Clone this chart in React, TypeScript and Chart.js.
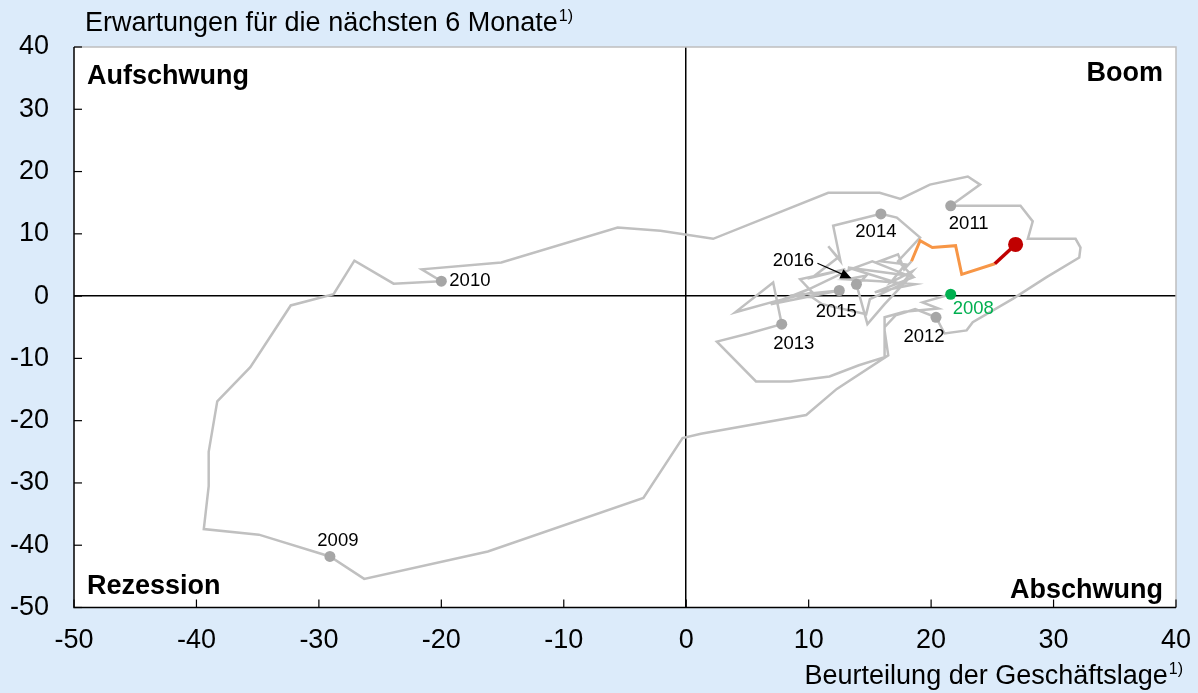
import React, { useEffect, useRef } from "react";
import { Chart, registerables } from "chart.js";

Chart.register(...registerables);

const FONT = "'Liberation Sans', Arial, Helvetica, sans-serif";

// Axis ranges / ticks
const axisMin = -50;
const axisMax = 40;
const axisStep = 10;

// Gray path (Beurteilung der Geschäftslage = x, Erwartungen = y), 2008 to 2017
const situation = [
  21.6, 19.3, 20.6, 17.8, 16.2, 16.2, 16.5, 12.3, 9.8, 1.2, -0.3, -3.5, -16.2, -26.3,
  -29.1, -34.9, -39.4, -39.0, -39.0, -38.3, -35.6, -32.3, -28.8, -27.1, -23.9,
  -20.0, -21.6, -15.1, -5.6, -2.1, 2.2, 11.6, 15.8, 17.5, 19.9, 23.0, 24.0,
  21.6, 27.3, 28.3, 27.9, 31.8, 32.2, 32.1, 29.4, 26.7, 23.4, 22.9, 21.1,
  20.4, 18.7, 17.1, 16.2, 16.2, 14.1, 11.7, 8.5, 5.7, 2.5, 5.1,
  7.8, 7.1, 4.0, 7.3, 10.3, 9.3, 13.0, 10.3, 12.4, 11.6, 12.6, 12.0,
  15.9, 17.2, 19.1, 17.3, 18.5, 13.2, 17.6, 15.0, 14.7, 11.1, 10.3, 8.5,
  12.5, 6.9, 10.0, 13.4, 15.2, 18.5, 15.4, 18.7, 15.8, 13.1, 14.7, 14.2,
  13.9, 14.8, 16.2, 18.1, 17.2, 18.5, 16.7, 17.9, 15.8, 17.3, 17.8, 18.4,
];
const expectations = [
  0.3, -1.0, -2.0, -2.5, -3.4, -5.5, -9.5, -14.9, -19.1, -22.1, -22.8, -32.4, -41.0, -45.4,
  -41.8, -38.3, -37.4, -30.5, -25.0, -16.9, -11.4, -1.5, 0.3, 5.7, 2.0,
  2.4, 4.3, 5.4, 11.0, 10.5, 9.2, 16.6, 16.6, 15.6, 17.9, 19.2, 17.9,
  14.5, 14.5, 12.0, 9.2, 9.2, 7.8, 6.2, 3.0, -0.4, -4.2, -5.5, -6.0,
  -3.4, -2.1, -3.1, -5.0, -9.8, -11.1, -12.9, -13.7, -13.7, -7.3, -6.0,
  -4.5, 2.2, -2.6, -0.8, 0.6, 2.7, 4.3, 3.0, 6.2, 8.0, 5.6, 11.3,
  13.2, 12.6, 9.4, 5.6, 3.2, 4.6, 1.9, -0.5, -2.9, -1.3, -0.2, 0.1,
  0.9, -1.3, 1.1, 4.3, 5.6, 3.0, 0.6, 1.9, 2.4, 2.7, 3.3, 2.2,
  1.9, -4.5, -1.3, 2.7, 1.1, 4.0, 2.2, 5.1, 5.6, 6.7, 4.3, 5.6,
];

// Recent months (orange) and latest month (red)
const recentSituation = [18.4, 19.1, 20.1, 22.0, 22.5, 25.2];
const recentExpectations = [5.6, 8.9, 7.8, 8.1, 3.5, 5.2];
const latestSituation = [25.2, 26.9];
const latestExpectations = [5.2, 8.3];

// Year markers (January values)
const yearLabels = ["2009", "2010", "2011", "2012", "2013", "2014", "2015", "2016"];
const yearSituation = [-29.1, -20.0, 21.6, 20.4, 7.8, 15.9, 12.5, 13.9];
const yearExpectations = [-41.8, 2.4, 14.5, -3.4, -4.5, 13.2, 0.9, 1.9];
const startLabel = "2008";
const startSituation = [21.6];
const startExpectations = [0.3];

// Texts
const quadrantLabels = ["Aufschwung", "Boom", "Rezession", "Abschwung"];
const xAxisTitle = "Beurteilung der Geschäftslage";
const yAxisTitle = "Erwartungen für die nächsten 6 Monate";
const footnoteMark = "1)";

// Label placement styles (pixel offsets relative to the marker)
const labelOffsets: Record<string, { dx: number; dy: number; align: CanvasTextAlign }> = {
  "2009": { dx: 8, dy: -16, align: "center" },
  "2010": { dx: 8, dy: 0, align: "left" },
  "2011": { dx: 18, dy: 18, align: "center" },
  "2012": { dx: -12, dy: 20, align: "center" },
  "2013": { dx: 12, dy: 20, align: "center" },
  "2014": { dx: -5, dy: 18, align: "center" },
  "2015": { dx: -3, dy: 21, align: "center" },
  "2016": { dx: -63, dy: -23, align: "center" },
};

const toPoints = (xs: number[], ys: number[]) => xs.map((x, i) => ({ x, y: ys[i] }));

const TICK_FONT = 27;
const TITLE_FONT = 27;

const decorPlugin = {
  id: "decor",
  beforeDraw(chart: any) {
    const { ctx, chartArea: a } = chart;
    ctx.save();
    ctx.fillStyle = "#ffffff";
    ctx.fillRect(a.left, a.top, a.right - a.left, a.bottom - a.top);
    ctx.restore();
  },
  afterDraw(chart: any) {
    const { ctx, chartArea: a } = chart;
    const xs = chart.scales.x;
    const ys = chart.scales.y;
    ctx.save();

    // borders
    ctx.lineWidth = 1.5;
    ctx.strokeStyle = "#BFBFBF";
    ctx.beginPath();
    ctx.moveTo(a.left, a.top);
    ctx.lineTo(a.right, a.top);
    ctx.lineTo(a.right, a.bottom);
    ctx.stroke();
    ctx.strokeStyle = "#000000";
    ctx.beginPath();
    ctx.moveTo(a.left, a.top);
    ctx.lineTo(a.left, a.bottom);
    ctx.lineTo(a.right, a.bottom);
    ctx.stroke();

    // inside tick marks
    ctx.lineWidth = 1.2;
    ys.ticks.forEach((t: any) => {
      const py = ys.getPixelForValue(t.value);
      ctx.beginPath();
      ctx.moveTo(a.left, py);
      ctx.lineTo(a.left + 8, py);
      ctx.stroke();
    });
    xs.ticks.forEach((t: any) => {
      const px = xs.getPixelForValue(t.value);
      ctx.beginPath();
      ctx.moveTo(px, a.bottom);
      ctx.lineTo(px, a.bottom - 8);
      ctx.stroke();
    });

    // quadrant labels
    ctx.fillStyle = "#000";
    ctx.font = `bold 27px ${FONT}`;
    ctx.textBaseline = "alphabetic";
    ctx.textAlign = "left";
    ctx.fillText(quadrantLabels[0], a.left + 13, a.top + 37);
    ctx.fillText(quadrantLabels[2], a.left + 13, a.bottom - 14);
    ctx.textAlign = "right";
    ctx.fillText(quadrantLabels[1], a.right - 13, a.top + 34);
    ctx.fillText(quadrantLabels[3], a.right - 13, a.bottom - 10);

    // axis titles with superscript
    const mainFont = `${TITLE_FONT}px ${FONT}`;
    const supFont = `16px ${FONT}`;
    ctx.textAlign = "left";
    ctx.font = mainFont;
    const yTitleX = a.left + 11;
    const yTitleBase = 31;
    ctx.fillText(yAxisTitle, yTitleX, yTitleBase);
    const yW = ctx.measureText(yAxisTitle).width;
    ctx.font = supFont;
    ctx.fillText(footnoteMark, yTitleX + yW + 1, yTitleBase - 10);

    ctx.font = supFont;
    const supW = ctx.measureText(footnoteMark).width;
    ctx.font = mainFont;
    const xW = ctx.measureText(xAxisTitle).width;
    const xEnd = a.right + 7;
    const xBase = 684;
    ctx.fillText(xAxisTitle, xEnd - supW - 1 - xW, xBase);
    ctx.font = supFont;
    ctx.fillText(footnoteMark, xEnd - supW, xBase - 10);

    // year labels
    ctx.font = `18.5px ${FONT}`;
    ctx.textBaseline = "middle";
    yearLabels.forEach((lab, i) => {
      const px = xs.getPixelForValue(yearSituation[i]);
      const py = ys.getPixelForValue(yearExpectations[i]);
      const o = labelOffsets[lab];
      ctx.textAlign = o.align;
      ctx.fillStyle = "#000";
      ctx.fillText(lab, px + o.dx, py + o.dy);
      if (lab === "2016") {
        const sx = px + o.dx + 24;
        const sy = py + o.dy + 2;
        const ex = px - 5;
        const ey = py - 6;
        const ang = Math.atan2(ey - sy, ex - sx);
        ctx.strokeStyle = "#000";
        ctx.lineWidth = 1.2;
        ctx.beginPath();
        ctx.moveTo(sx, sy);
        ctx.lineTo(ex - 9 * Math.cos(ang), ey - 9 * Math.sin(ang));
        ctx.stroke();
        ctx.beginPath();
        ctx.moveTo(ex, ey);
        ctx.lineTo(ex - 11 * Math.cos(ang) + 5 * Math.sin(ang), ey - 11 * Math.sin(ang) - 5 * Math.cos(ang));
        ctx.lineTo(ex - 11 * Math.cos(ang) - 5 * Math.sin(ang), ey - 11 * Math.sin(ang) + 5 * Math.cos(ang));
        ctx.closePath();
        ctx.fill();
      }
    });
    const spx = xs.getPixelForValue(startSituation[0]);
    const spy = ys.getPixelForValue(startExpectations[0]);
    ctx.textAlign = "left";
    ctx.fillStyle = "#00B050";
    ctx.fillText(startLabel, spx + 2, spy + 15);

    ctx.restore();
  },
};

export default function App() {
  const canvasRef = useRef<HTMLCanvasElement | null>(null);

  useEffect(() => {
    document.body.style.margin = "0";
    const canvas = canvasRef.current;
    if (!canvas) return;
    const zeroGrid = (c: any) => (c.tick && c.tick.value === 0 ? "#000000" : "rgba(0,0,0,0)");
    const chart = new Chart(canvas, {
      type: "scatter",
      data: {
        datasets: [
          {
            label: "start",
            data: toPoints(startSituation, startExpectations),
            pointRadius: 5.5,
            pointBackgroundColor: "#00B050",
            pointBorderWidth: 0,
            showLine: false,
          },
          {
            label: "years",
            data: toPoints(yearSituation, yearExpectations),
            pointRadius: 5.5,
            pointBackgroundColor: "#A6A6A6",
            pointBorderWidth: 0,
            showLine: false,
          },
          {
            label: "latest",
            data: toPoints(latestSituation, latestExpectations),
            showLine: true,
            borderColor: "#C00000",
            borderWidth: 3.5,
            pointRadius: [0, 7.5],
            pointBackgroundColor: "#C00000",
            pointBorderWidth: 0,
          },
          {
            label: "recent",
            data: toPoints(recentSituation, recentExpectations),
            showLine: true,
            borderColor: "#F79646",
            borderWidth: 3,
            pointRadius: 0,
            borderJoinStyle: "miter",
          },
          {
            label: "path",
            data: toPoints(situation, expectations),
            showLine: true,
            borderColor: "#C0C0C0",
            borderWidth: 2.5,
            pointRadius: 0,
            borderJoinStyle: "miter",
          },
        ] as any,
      },
      options: {
        responsive: false,
        animation: false,
        layout: { padding: { left: 10, right: 22, top: 47, bottom: 35.5 } },
        plugins: { legend: { display: false }, tooltip: { enabled: false }, title: { display: false } },
        scales: {
          x: {
            type: "linear",
            min: axisMin,
            max: axisMax,
            border: { display: false },
            grid: { color: zeroGrid, lineWidth: 1.5, drawTicks: false },
            ticks: {
              stepSize: axisStep,
              padding: 17,
              color: "#000",
              maxRotation: 0,
              autoSkip: false,
              font: { family: FONT, size: TICK_FONT },
            },
            afterFit: (s: any) => {
              s.height = 50;
              s.paddingLeft = 0;
              s.paddingRight = 0;
            },
          },
          y: {
            type: "linear",
            min: axisMin,
            max: axisMax,
            border: { display: false },
            grid: { color: zeroGrid, lineWidth: 1.5, drawTicks: false },
            ticks: {
              stepSize: axisStep,
              padding: 25,
              color: "#000",
              autoSkip: false,
              font: { family: FONT, size: TICK_FONT },
            },
            afterFit: (s: any) => {
              s.width = 64;
              s.paddingTop = 0;
              s.paddingBottom = 0;
            },
          },
        },
      },
      plugins: [decorPlugin],
    });
    return () => chart.destroy();
  }, []);

  return (
    <div style={{ width: 1198, height: 693, background: "#DCEBFA", position: "relative" }}>
      <canvas ref={canvasRef} width={1198} height={693} style={{ display: "block" }} />
    </div>
  );
}
